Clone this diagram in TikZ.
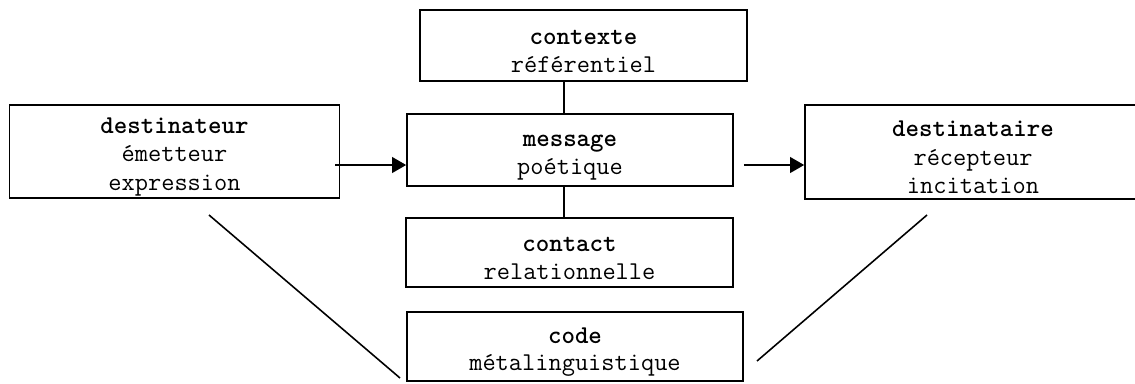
\documentclass[tikz,border=0pt]{standalone}
\usetikzlibrary{positioning, arrows.meta}
\newcommand\topgap{\rule{0pt}{15pt}}

\begin{document}
\begin{tikzpicture}[
                  x=0.02cm, y=-0.02cm,
                  every node/.style={draw, line width=1pt, align=center, inner sep=0pt,
                              font=\ttfamily\fontsize{14.6}{15.6}\selectfont},
                  factor/.style={minimum width=6.54cm, minimum height=1.42cm},
                  party/.style={minimum width=6.6cm, minimum height=1.87cm,
                              font=\ttfamily\fontsize{14.6}{16.4}\selectfont},
                  link/.style={draw, line width=0.9pt},
                  flow/.style={link, -{Triangle[length=8pt, width=9pt]}},
            ]
            \useasboundingbox (0,0) rectangle (1135,383);

            \node[factor] (contexte) at (583.5,45.5) {\topgap\textbf{contexte}\\référentiel};
            \node[party] (destinateur) at (174.5,151.5) {\topgap\textbf{destinateur}\\émetteur\\expression};
            \node[factor, minimum width=6.52cm, minimum height=1.44cm] (message) at (570,150)
                  {\topgap\textbf{message}\\poétique};
            \node[party, minimum width=6.72cm] (destinataire) at (973,152)
                  {\topgap\textbf{destinataire}\\récepteur\\incitation};
            \node[factor, minimum height=1.38cm] (contact) at (569.5,252.5)
                  {\topgap\textbf{contact}\\relationnelle};
            \node[factor, minimum width=6.72cm, minimum height=1.38cm] (code) at (575,346.5)
                  {\topgap\textbf{code}\\métalinguistique};

            % axe vertical et ligne des fleches
            \coordinate (axis) at (564,0);
            \coordinate (flowline) at (0,165);
            \draw[link] (contexte.south -| axis) -- (message.north -| axis);
            \draw[link] (message.south -| axis) -- (contact.north -| axis);
            \draw[flow] ([xshift=-5*0.02cm]destinateur.east |- flowline) -- (message.west |- flowline);
            \draw[flow] ([xshift=10*0.02cm]message.east |- flowline) -- (destinataire.west |- flowline);

            % diagonales vers le code
            \coordinate (leftfoot) at (209,215);
            \coordinate (leftend) at (400,378);
            \coordinate (rightfoot) at (927,215);
            \coordinate (rightend) at (757,361);
            \draw[link] (leftfoot) -- (leftend);
            \draw[link] (rightfoot) -- (rightend);
      \end{tikzpicture}
\end{document}
